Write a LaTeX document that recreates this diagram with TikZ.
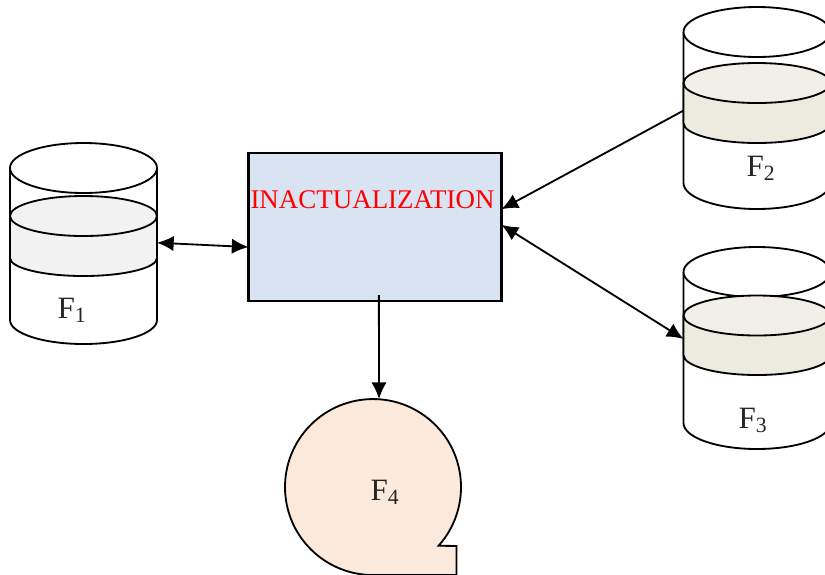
\documentclass[tikz,border=0pt]{standalone}
\usepackage{fontspec}
\setmainfont{Liberation Serif}
\usetikzlibrary{arrows.meta}

\definecolor{boxblue}{HTML}{DAE3F1}
\definecolor{tapepeach}{HTML}{FBE9DB}
\definecolor{bandgray}{HTML}{F2F2F2}
\definecolor{bandtan}{HTML}{EDEBE0}
\definecolor{bandtanlight}{HTML}{F1EFE8}

\begin{document}
\begin{tikzpicture} [x=0.03cm,y=-0.03cm,line width=0.055cm,>={Latex[length=0.5cm,width=0.46cm]},
  inact/.style= {shape=rectangle,draw,line width=0.07cm,minimum width=7.59cm,minimum height=4.44cm,inner sep=0,outer sep=0,fill=boxblue},
  cyl/.style= {shape=rectangle,minimum width=4.41cm,minimum height=6.06cm,inner sep=0,outer sep=0},
  lbl/.style= {anchor=base,inner sep=0,text=black!85,font=\fontsize{26.5}{30}\selectfont}]
\clip (0,0) rectangle (825,574);

\node[cyl] (f1) at (83.5,244) {};
\node[cyl] (f2) at (757,108) {};
\node[cyl] (f3) at (757,348) {};

% one cylinder: centre, top, band top, band side, band depth, foot, foot depth
\foreach \cx/\ty/\by/\bs/\bd/\fy/\fd/\cb/\ct in {83.5/168/216/258/18/320/24/bandgray/bandgray,757/32/83/123/20/183/26/bandtan/bandtanlight,757/272/315.5/355/20/423/26/bandtan/bandtanlight}{%
  \draw[fill=white] (\cx-73.5,\ty) -- (\cx-73.5,\fy) arc[start angle=180,end angle=360,x radius=2.205cm,y radius={\fd*0.03cm}] -- (\cx+73.5,\ty);
  \draw[fill=white] (\cx,\ty) ellipse [x radius=2.205cm,y radius=0.75cm];
  \draw[fill=\cb] (\cx-73.5,\by) -- (\cx-73.5,\bs) arc[start angle=180,end angle=360,x radius=2.205cm,y radius={\bd*0.03cm}] -- (\cx+73.5,\by);
  \draw[fill=\ct] (\cx,\by) ellipse [x radius=2.205cm,y radius=0.6cm];}

\node[inact] (box) at (375,227) {};
\node[anchor=base,inner sep=0,text=red,font=\fontsize{23}{26}\selectfont] (boxtext) at (372.5,208) {INACTUALIZATION};

% tape shape
\draw[fill=tapepeach] (438.6,545.7) arc[start angle=-41.8,end angle=270,radius=2.64cm] -- (456.5,575) -- (456.5,546) -- cycle;
\coordinate (tapetop) at (379,399);

\node[lbl] (lf1) at (72,318) {F\textsubscript{1}};
\node[lbl] (lf2) at (761,176) {F\textsubscript{2}};
\node[lbl] (lf3) at (753,428) {F\textsubscript{3}};
\node[lbl] (lf4) at (385,500) {F\textsubscript{4}};

\draw[<->] (f1.1.5) -- (box.189.4);
\draw[<->] (box.1.4) -- (f3.173.3);
\draw[->] (f2.182.3) -- (box.8.6);
\draw[->,shorten <=-0.18cm] (box.273.9) -- (tapetop);
\end{tikzpicture}
\end{document}
